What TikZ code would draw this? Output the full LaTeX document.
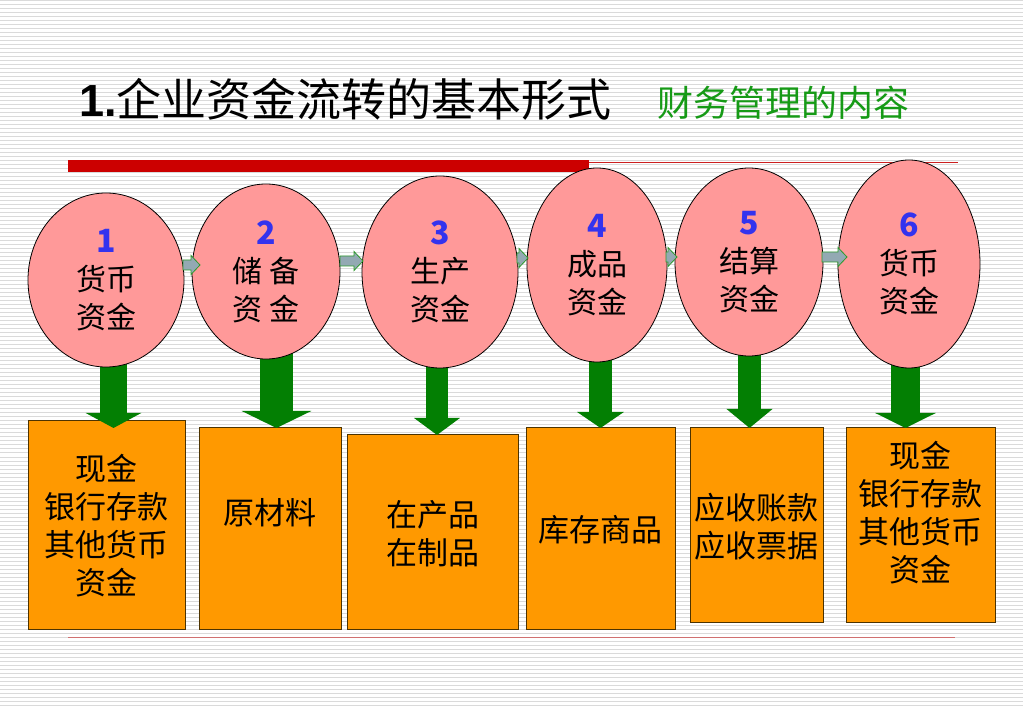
\documentclass[tikz,border=0pt]{standalone}
\usepackage{fontspec}
\setmainfont{Liberation Sans}
\newfontfamily\cjk{Noto Sans CJK SC}
\usetikzlibrary{arrows.meta,shapes.geometric,calc}
\definecolor{stripec}{HTML}{DADADA}
\definecolor{redbar}{HTML}{CC0000}
\definecolor{redthin}{HTML}{CC2020}
\definecolor{redlow}{HTML}{D07070}
\definecolor{subgreen}{HTML}{169A16}
\definecolor{pinkfill}{HTML}{FF9999}
\definecolor{orangefill}{HTML}{FF9900}
\definecolor{boxedge}{HTML}{4D3300}
\definecolor{numblue}{HTML}{3333EE}
\definecolor{darrow}{HTML}{037F03}
\definecolor{sarrowfill}{HTML}{93A9B3}
\definecolor{sarrowedge}{HTML}{2E9A2E}
\newcommand\fatarr[2]{\draw[smallarr] let \p1=(#1), \p2=(#2) in
  (\x1,{\y1+5pt}) -- ({\x2-9pt},{\y1+5pt}) -- ({\x2-9pt},{\y1+9.5pt}) -- (\x2,\y1)
  -- ({\x2-9pt},{\y1-9.5pt}) -- ({\x2-9pt},{\y1-5pt}) -- (\x1,{\y1-5pt}) -- cycle;}
\newcommand\nm[1]{{\bfseries\color{numblue}\fontsize{32}{38}\selectfont #1}}
\begin{document}
\begin{tikzpicture}[x=1pt,y=-1pt,
  stripe/.style={stripec,line width=1pt},
  bub/.style={ellipse,draw=black,line width=0.8pt,fill=pinkfill,inner sep=0pt,align=center,
    font=\cjk\fontsize{30}{38}\selectfont},
  box/.style={rectangle,draw=boxedge,line width=1pt,fill=orangefill,inner sep=0pt},
  btxt/.style={align=center,inner sep=0pt,font=\cjk\fontsize{31}{38}\selectfont},
  smallarr/.style={fill=sarrowfill,draw=sarrowedge,line width=0.8pt},
  downarr/.style={darrow,line width=#1}]
\useasboundingbox (0,0) rectangle (1023,708);
\fill[white] (0,0) rectangle (1023,708);
\foreach \yy in {1,5,...,705} \draw[stripe] (0,\yy) -- (1023,\yy);
% rules
\fill[redbar] (68,160) rectangle (589,172);
\draw[redthin,line width=1.2pt] (589,162.5) -- (958,162.5);
\draw[redlow,line width=1.2pt] (68,637.5) -- (955,637.5);
% titles
\node[anchor=base west,inner sep=0pt] (title) at (79,117)
  {\fontsize{45}{45}\selectfont\textbf{1.}\cjk 企业资金流转的基本形式};
\node[anchor=base west,inner sep=0pt,text=subgreen] (sub) at (657,117)
  {\cjk\fontsize{36}{36}\selectfont 财务管理的内容};
% boxes
\node[box,minimum width=157pt,minimum height=208pt] (b1) at (106.5,525) {};
\node[box,minimum width=142pt,minimum height=201pt] (b2) at (270,528.5) {};
\node[box,minimum width=171pt,minimum height=194pt] (b3) at (432.5,532) {};
\node[box,minimum width=149pt,minimum height=201pt] (b4) at (600.5,528.5) {};
\node[box,minimum width=133pt,minimum height=194pt] (b5) at (756.5,525) {};
\node[box,minimum width=149pt,minimum height=194pt] (b6) at (920.5,525) {};
\node[btxt] (t1) at (106,526) {现金\\银行存款\\其他货币\\资金};
\node[btxt] (t2) at (270,513) {原材料};
\node[btxt] (t3) at (433,534) {在产品\\在制品};
\node[btxt] (t4) at (600,530) {库存商品};
\node[btxt] (t5) at (756,527) {应收账款\\应收票据};
\node[btxt] (t6) at (920,513) {现金\\银行存款\\其他货币\\资金};
% ellipse positions (needed for arrows)
\coordinate (c1) at (106,280);
\coordinate (c2) at (266,271.5);
\coordinate (c3) at (440,272);
\coordinate (c4) at (597,265);
\coordinate (c5) at (749,262);
\coordinate (c6) at (909,264);
% down arrows
\coordinate (d1) at (113.5,428);
\coordinate (d2) at (276.5,428);
\coordinate (d3) at (437,435);
\coordinate (d4) at (600.5,428);
\coordinate (d5) at (749.5,428);
\coordinate (d6) at (905.5,428);
\draw[downarr=27pt,-{Triangle[width=55pt,length=15pt]}] (d1 |- c1) -- (d1);
\draw[downarr=33pt,-{Triangle[width=69pt,length=17pt]}] (d2 |- c2) -- (d2);
\draw[downarr=22pt,-{Triangle[width=45pt,length=17pt]}] (d3 |- c3) -- (d3);
\draw[downarr=23pt,-{Triangle[width=46pt,length=16pt]}] (d4 |- c4) -- (d4);
\draw[downarr=23pt,-{Triangle[width=45pt,length=19pt]}] (d5 |- c5) -- (d5);
\draw[downarr=29pt,-{Triangle[width=60pt,length=15pt]}] (d6 |- c6) -- (d6);
% ellipses
\node[bub,minimum width=156pt,minimum height=174pt] (e1) at (c1) {\nm{1}\\货币\\资金};
\node[bub,minimum width=148pt,minimum height=175pt] (e2) at (c2) {\nm{2}\\储 备\\资 金};
\node[bub,minimum width=156pt,minimum height=192pt] (e3) at (c3) {\nm{3}\\生产\\资金};
\node[bub,minimum width=140pt,minimum height=194pt] (e4) at (c4) {\nm{4}\\成品\\资金};
\node[bub,minimum width=148pt,minimum height=188pt] (e5) at (c5) {\nm{5}\\结算\\资金};
\node[bub,minimum width=142pt,minimum height=208pt] (e6) at (c6) {\nm{6}\\货币\\资金};
% small arrows between ellipses
\coordinate (s1) at (183,265); \coordinate (f1) at (200,265);
\coordinate (s2) at (340,261); \coordinate (f2) at (363,261);
\coordinate (s3) at (517,258); \coordinate (f3) at (528,258);
\coordinate (s4) at (666,257); \coordinate (f4) at (677,257);
\coordinate (s5) at (822,257); \coordinate (f5) at (847,257);
\fatarr{s1}{f1}
\fatarr{s2}{f2}
\fatarr{s3}{f3}
\fatarr{s4}{f4}
\fatarr{s5}{f5}
\end{tikzpicture}
\end{document}
